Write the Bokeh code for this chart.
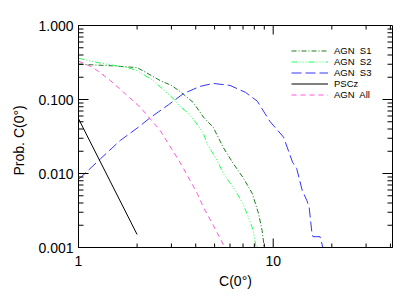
import math
from bokeh.plotting import figure
from bokeh.models import (Range1d, FixedTicker, PrintfTickFormatter,
                          Legend, LegendItem)
from bokeh.embed import file_html
from bokeh.resources import INLINE

# ---- data ----
s1_x = [1, 1.5, 2.0, 2.3, 2.63, 3.0, 3.33, 3.89, 4.38, 4.92, 5.54, 6.23, 7.0, 7.8, 8.4, 8.77, 9.0]
s1_y = [0.30, 0.285, 0.27, 0.22, 0.18, 0.155, 0.128, 0.091, 0.058, 0.042, 0.0225, 0.0137, 0.0088, 0.0054, 0.0029, 0.0017, 0.001]

s2_x = [1, 1.3, 1.78, 2.0, 2.42, 3.07, 3.33, 3.62, 3.98, 4.38, 4.58, 5.16, 5.54, 6.39, 7.0, 7.44, 7.9, 8.17]
s2_y = [0.36, 0.31, 0.27, 0.246, 0.18, 0.103, 0.08, 0.067, 0.05, 0.035, 0.025, 0.015, 0.010, 0.0059, 0.0039, 0.0026, 0.0017, 0.001]

s3_x = [1, 1.3, 1.64, 2.0, 2.34, 2.9, 3.46, 4.2, 4.92, 6.0, 7.2, 8.28, 9.65, 11.3, 12.6, 13.2, 14.1, 14.9, 15.3, 15.8, 16.0, 17.4, 18.0]
s3_y = [0.0083, 0.0159, 0.028, 0.041, 0.057, 0.085, 0.12, 0.15, 0.165, 0.155, 0.125, 0.095, 0.05, 0.031, 0.014, 0.0117, 0.0059, 0.0043, 0.0035, 0.0016, 0.0014, 0.0014, 0.001]

pscz_x = [1, 2.0]
pscz_y = [0.055, 0.0015]

all_x = [1, 1.19, 1.46, 1.78, 2.08, 2.63, 3.33, 3.75, 4.07, 4.38, 4.92, 5.54, 5.6]
all_y = [0.33, 0.27, 0.18, 0.113, 0.078, 0.038, 0.014, 0.008, 0.0054, 0.0035, 0.0020, 0.0011, 0.001]

labels = ["AGN  S1", "AGN  S2", "AGN  S3", "PSCz", "AGN  All"]

x_major = [1, 10]
x_minor = [2, 3, 4, 5, 6, 7, 8, 9, 20, 30, 40]
y_major = [0.001, 0.01, 0.1, 1.0]
y_minor = [0.002, 0.003, 0.004, 0.005, 0.006, 0.007, 0.008, 0.009,
           0.02, 0.03, 0.04, 0.05, 0.06, 0.07, 0.08, 0.09,
           0.2, 0.3, 0.4, 0.5, 0.6, 0.7, 0.8, 0.9]

X_START, X_END = 1, 41
Y_START, Y_END = 0.001, 1.0
FRAME_W, FRAME_H = 314, 222

FONT = "Liberation Sans"

p = figure(x_axis_type="log", y_axis_type="log",
           x_range=Range1d(X_START, X_END), y_range=Range1d(Y_START, Y_END),
           frame_width=FRAME_W, frame_height=FRAME_H,
           min_border_left=78, min_border_top=25, min_border_right=14, min_border_bottom=45,
           output_backend="svg", toolbar_location=None,
           background_fill_color="white", border_fill_color="white")
p.grid.visible = False
p.outline_line_color = "black"
p.outline_line_width = 1

def style(ax, ticker):
    ax.ticker = ticker
    ax.axis_line_color = "black"
    ax.major_tick_in = 0
    ax.major_tick_out = 0
    ax.minor_tick_in = 0
    ax.minor_tick_out = 0
    ax.major_label_text_font = FONT
    ax.major_label_text_font_size = "14px"
    ax.major_label_text_color = "black"
    ax.axis_label_text_font = FONT
    ax.axis_label_text_font_size = "14px"
    ax.axis_label_text_font_style = "normal"
    ax.axis_label_text_color = "black"

xa = p.xaxis[0]
style(xa, FixedTicker(ticks=x_major, minor_ticks=x_minor))
xa.formatter = PrintfTickFormatter(format="%d")
xa.axis_label = "C(0°)"
xa.major_label_standoff = 8
xa.axis_label_standoff = 4

ya = p.yaxis[0]
style(ya, FixedTicker(ticks=y_major, minor_ticks=y_minor))
ya.formatter = PrintfTickFormatter(format="%.3f")
ya.axis_label = "Prob.   C(0°)"
ya.major_label_standoff = 5
ya.axis_label_standoff = 8

r1 = p.line(s1_x, s1_y, line_color="#1e7d1e", line_width=1, line_dash="5 2 1 2")
r2 = p.line(s2_x, s2_y, line_color="#22ff55", line_width=1, line_dash="6 2 1 2 1 2 1 2")
r3 = p.line(s3_x, s3_y, line_color="#3535ff", line_width=1, line_dash="10 4")
r4 = p.line(pscz_x, pscz_y, line_color="black", line_width=1)
r5 = p.line(all_x, all_y, line_color="#ff55dd", line_width=1, line_dash="5 4")

# inward tick marks on all four sides, drawn as thin filled quads
# (lengths converted from pixels to log-data factors)
px_dec_x = FRAME_W / math.log10(X_END / X_START)
px_dec_y = FRAME_H / math.log10(Y_END / Y_START)
hx = 10 ** (0.5 / px_dec_x)   # half a pixel in x
hy = 10 ** (0.5 / px_dec_y)   # half a pixel in y

ql, qr, qb, qt = [], [], [], []
for vals, length in ((y_major, 10), (y_minor, 5)):
    f = 10 ** (length / px_dec_x)
    for v in vals:
        ql += [X_START, X_END / f]
        qr += [X_START * f, X_END]
        qb += [v / hy, v / hy]
        qt += [v * hy, v * hy]
for vals, length in ((x_major, 9), (x_minor, 4)):
    f = 10 ** (length / px_dec_y)
    for v in vals:
        ql += [v / hx, v / hx]
        qr += [v * hx, v * hx]
        qb += [Y_START, Y_END / f]
        qt += [Y_START * f, Y_END]
p.quad(left=ql, right=qr, bottom=qb, top=qt, fill_color="black", line_color=None)

legend = Legend(items=[LegendItem(label=l, renderers=[r]) for l, r in zip(labels, [r1, r2, r3, r4, r5])],
   location=(213, 147), margin=0, padding=0, spacing=-1,
   glyph_width=37, glyph_height=9, label_height=9, label_standoff=6,
   label_text_font=FONT, label_text_font_size="9.5px", label_text_color="black",
   border_line_alpha=0, background_fill_alpha=0)
p.add_layout(legend, "center")

open("out.html", "w").write(file_html(p, INLINE))
